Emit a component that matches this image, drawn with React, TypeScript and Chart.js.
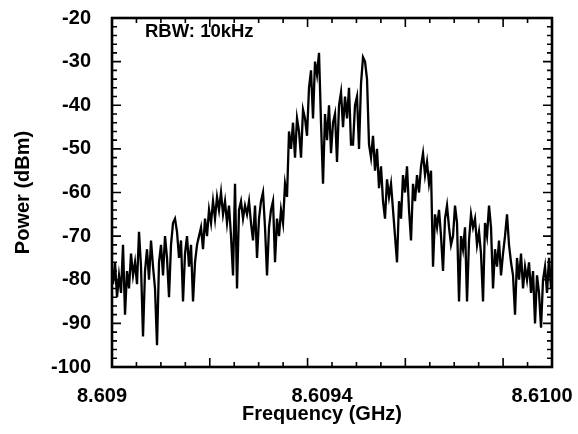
import React, { useEffect, useRef } from "react";
import { Chart, registerables } from "chart.js";

Chart.register(...registerables);

// Sweep grid (GHz) of the spectrum analyser trace
const SWEEP_START_GHZ = 8.6090023;
const SWEEP_STEP_GHZ = 0.0000045455;

const POWER_DBM: number[] = [
  -81, -76, -84, -79, -83, -72, -88, -78, -82, -74,
  -79, -76, -81, -69, -77, -93, -78, -73, -80, -71,
  -77, -82, -95, -76, -72, -79, -70, -75, -84, -72,
  -67, -66, -69, -75, -71, -85, -74, -70, -77, -72,
  -85, -76, -72, -70, -68, -73, -66, -70, -64, -67,
  -62, -66, -61, -64, -60, -65, -62, -67, -63, -70,
  -79, -58, -82, -64, -62, -66, -63, -65, -62, -67,
  -71, -63, -75, -66, -62, -60, -68, -79, -68, -64,
  -62, -76, -66, -70, -64, -67, -58, -61, -46, -50,
  -44, -52, -43, -46, -52, -41, -43, -47, -36, -32,
  -43, -30, -33, -28, -44, -58, -42, -48, -40, -51,
  -44, -42, -53, -40, -37, -45, -38, -43, -36, -49,
  -49, -40, -38, -50, -35, -29, -30, -34, -49, -52,
  -47, -55, -50, -59, -54, -62, -66, -57, -61, -58,
  -64, -70, -76, -62, -66, -56, -60, -54, -64, -71,
  -58, -62, -56, -60, -54, -51, -56, -53, -58, -55,
  -77, -65, -68, -64, -70, -78, -66, -63, -68, -72,
  -70, -63, -67, -85, -70, -73, -68, -85, -71, -65,
  -68, -66, -72, -69, -74, -85, -67, -70, -63, -68,
  -82, -73, -77, -71, -79, -74, -70, -65, -72, -76,
  -79, -88, -75, -80, -74, -82, -77, -80, -76, -83,
  -78, -90, -79, -83, -91, -80, -77, -83, -75, -82,
];

const X_MIN = 8.609;
const X_MAX = 8.61;
const X_TICK_VALUES = [8.609, 8.6095, 8.61];
const X_TICK_LABELS = ["8.609", "8.6094", "8.6100"];
const X_MINOR_DIVISIONS = 18;
const X_MAJOR_EVERY = 4;

const Y_MIN = -100;
const Y_MAX = -20;
const Y_STEP = 10;
const Y_MINOR_STEP = 2;

const X_TITLE = "Frequency (GHz)";
const Y_TITLE = "Power (dBm)";
const ANNOTATION = "RBW: 10kHz";

const FONT_FAMILY = "'Liberation Sans', Arial, Helvetica, sans-serif";

const framePlugin = {
  id: "frameTicks",
  afterDatasetsDraw(chart: any) {
    const { ctx, chartArea: a, scales } = chart;
    const x = scales.x;
    const y = scales.y;
    ctx.save();
    ctx.strokeStyle = "#000";
    ctx.lineWidth = 1.6;
    ctx.beginPath();
    for (let k = 0; k <= X_MINOR_DIVISIONS; k++) {
      const v = X_MIN + ((X_MAX - X_MIN) * k) / X_MINOR_DIVISIONS;
      const px = x.getPixelForValue(v);
      const len = k % X_MAJOR_EVERY === 0 ? 9 : 5;
      ctx.moveTo(px, a.bottom);
      ctx.lineTo(px, a.bottom - len);
      ctx.moveTo(px, a.top);
      ctx.lineTo(px, a.top + len);
    }
    for (let v = Y_MIN; v <= Y_MAX; v += Y_MINOR_STEP) {
      const py = y.getPixelForValue(v);
      const len = v % Y_STEP === 0 ? 9 : 5;
      ctx.moveTo(a.left, py);
      ctx.lineTo(a.left + len, py);
      ctx.moveTo(a.right, py);
      ctx.lineTo(a.right - len, py);
    }
    ctx.stroke();
    ctx.lineWidth = 2.6;
    ctx.strokeRect(a.left, a.top, a.right - a.left, a.bottom - a.top);
    ctx.fillStyle = "#000";
    ctx.textBaseline = "middle";
    ctx.font = `bold 18.5px ${FONT_FAMILY}`;
    ctx.textAlign = "left";
    ctx.fillText(ANNOTATION, a.left + 33, a.top + 14);
    ctx.font = `bold 20px ${FONT_FAMILY}`;
    ctx.textAlign = "center";
    ctx.fillText(X_TITLE, (a.left + a.right) / 2 - 10, a.bottom + 47);
    ctx.restore();
  },
};

export default function App() {
  const canvasRef = useRef<HTMLCanvasElement | null>(null);

  useEffect(() => {
    const canvas = canvasRef.current;
    if (!canvas) return;
    const points = POWER_DBM.map((p, i) => ({ x: SWEEP_START_GHZ + i * SWEEP_STEP_GHZ, y: p }));
    const chart = new Chart(canvas, {
      type: "line",
      data: {
        datasets: [
          {
            data: points,
            borderColor: "#000",
            borderWidth: 2.3,
            pointRadius: 0,
            tension: 0,
            fill: false,
          },
        ],
      },
      options: {
        responsive: false,
        maintainAspectRatio: false,
        animation: false,
        events: [],
        layout: { padding: { left: 0, right: 26, top: 18, bottom: 0 } },
        plugins: { legend: { display: false }, tooltip: { enabled: false } },
        scales: {
          x: {
            type: "linear",
            min: X_MIN,
            max: X_MAX,
            afterFit: (s: any) => {
              s.height = 67;
              s.paddingLeft = 0;
              s.paddingRight = 0;
            },
            afterBuildTicks: (s: any) => {
              s.ticks = X_TICK_VALUES.map((v) => ({ value: v }));
            },
            grid: { display: false, drawTicks: false },
            border: { display: false },
            ticks: {
              autoSkip: false,
              maxRotation: 0,
              minRotation: 0,
              padding: 17,
              labelOffset: -10,
              color: "#000",
              font: { family: FONT_FAMILY, size: 20, weight: "bold" },
              callback: (_v: any, i: number) => X_TICK_LABELS[i],
            },
            title: { display: false },
          },
          y: {
            type: "linear",
            min: Y_MIN,
            max: Y_MAX,
            afterFit: (s: any) => {
              s.width = 112;
              s.paddingTop = 0;
              s.paddingBottom = 0;
            },
            grid: { display: false, drawTicks: false },
            border: { display: false },
            ticks: {
              stepSize: Y_STEP,
              padding: 21,
              color: "#000",
              font: { family: FONT_FAMILY, size: 20, weight: "bold" },
            },
            title: {
              display: true,
              text: Y_TITLE,
              color: "#000",
              font: { family: FONT_FAMILY, size: 20, weight: "bold" },
              padding: { top: 11, bottom: 0 },
            },
          },
        },
      },
      plugins: [framePlugin],
    } as any);
    return () => chart.destroy();
  }, []);

  return (
    <div style={{ position: "fixed", left: 0, top: 0, width: 578, height: 434, background: "#fff" }}>
      <canvas ref={canvasRef} width={578} height={434} style={{ width: 578, height: 434, display: "block" }} />
    </div>
  );
}
